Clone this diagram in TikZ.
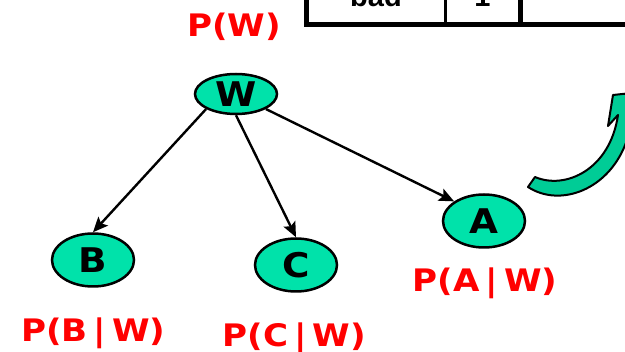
\documentclass[tikz,border=0pt]{standalone}
\usepackage{fontspec}
\usetikzlibrary{arrows.meta,shapes.geometric}
\newfontfamily\lblfont[FakeStretch=1.1]{DejaVu Sans}
\newfontfamily\tabfont{Liberation Sans}
\definecolor{nodeteal}{RGB}{0,226,170}
\definecolor{arrowteal}{RGB}{0,204,150}

\begin{document}
\begin{tikzpicture}[x=1pt,y=-1pt]
\tikzset{
% Node styles for the network: variables and their probability labels
var node/.style={ellipse,draw,line width=2.5pt,fill=nodeteal,minimum width=82pt,minimum height=53pt,inner sep=0pt,font=\lblfont\bfseries\fontsize{34}{34}\selectfont},
prob/.style={text=red,inner sep=0pt,anchor=base,font=\lblfont\bfseries\fontsize{31}{31}\selectfont},
cell text/.style={inner sep=0pt,anchor=base,font=\tabfont\bfseries\fontsize{29}{29}\selectfont},
link/.style={line width=2.4pt,-{Stealth[length=15pt,width=13pt,inset=3pt]}}
}
\useasboundingbox (0,0) rectangle (625,352);
\clip (0,0) rectangle (625,352);

% Bottom of the table, cut off by the frame
\draw[line width=5pt] (306.5,-10) -- (306.5,24.5) -- (640,24.5);
\draw[line width=3pt] (445,-10) -- (445,24.5);
\draw[line width=5pt] (520.5,-10) -- (520.5,24.5);
\node[cell text] (bad) at (376,7) {bad};
\node[cell text] (one) at (482.5,7) {1};

% The network
\node[var node,minimum height=40pt] (W) at (236,94) {W};
\node[var node] (B) at (93,260) {B};
\node[var node] (C) at (296,265) {C};
\node[var node] (A) at (484,221) {A};

\draw[link] (W.south west) -- (B.north);
\draw[link] (W.south) -- (C.north);
\draw[link] (W.south east) -- (A.north west);

% Probability tables attached to each node
\node[prob] (pW) at (234,37) {P(W)};
\node[prob] (pB) at (93.5,341.7) {P(B\hspace{6pt}|\hspace{6pt}W)};
\node[prob] (pC) at (294.5,346.7) {P(C\hspace{6pt}|\hspace{6pt}W)};
\node[prob] (pA) at (485,291.7) {P(A\hspace{6pt}|\hspace{6pt}W)};

% Curved arrow
\filldraw[fill=arrowteal,line width=2pt,line join=round] (535,177) .. controls (565,190) and (610,170) .. (618,115) -- (608,126) -- (613,95) -- (660,90) -- (640,132) -- (627,140) .. controls (610,190) and (560,208) .. (528,187) -- cycle;
\end{tikzpicture}
\end{document}
